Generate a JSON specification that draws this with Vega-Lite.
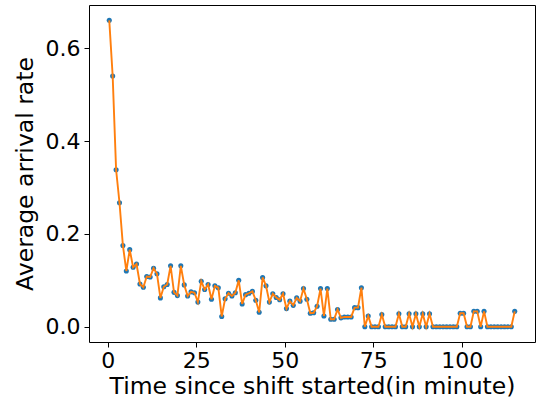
{
  "$schema": "https://vega.github.io/schema/vega-lite/v6.json",
  "width": 446,
  "height": 337,
  "autosize": "none",
  "padding": {"left": 89, "top": 5, "right": 2, "bottom": 62},
  "background": "white",
  "config": {
    "view": {"stroke": "black", "strokeWidth": 1},
    "font": "DejaVu Sans",
    "axis": {
      "domain": false,
      "grid": false,
      "tickColor": "black",
      "tickSize": 5,
      "tickWidth": 1,
      "labelFont": "DejaVu Sans",
      "labelFontSize": 22,
      "labelColor": "black",
      "titleFont": "DejaVu Sans",
      "titleFontSize": 23.5,
      "titleFontWeight": "normal",
      "titleColor": "black"
    }
  },
  "data": {
    "values": [
      {"t": 0.4, "r": 0.66}, {"t": 1.36, "r": 0.54}, {"t": 2.33, "r": 0.338}, {"t": 3.29, "r": 0.267},
      {"t": 4.25, "r": 0.175}, {"t": 5.22, "r": 0.12}, {"t": 6.18, "r": 0.166}, {"t": 7.14, "r": 0.128},
      {"t": 8.10, "r": 0.135}, {"t": 9.07, "r": 0.092}, {"t": 10.03, "r": 0.085}, {"t": 10.99, "r": 0.108},
      {"t": 11.96, "r": 0.107}, {"t": 12.92, "r": 0.126}, {"t": 13.88, "r": 0.114}, {"t": 14.85, "r": 0.062},
      {"t": 15.81, "r": 0.086}, {"t": 16.77, "r": 0.091}, {"t": 17.73, "r": 0.131}, {"t": 18.70, "r": 0.074},
      {"t": 19.66, "r": 0.067}, {"t": 20.62, "r": 0.131}, {"t": 21.59, "r": 0.09}, {"t": 22.55, "r": 0.066},
      {"t": 23.51, "r": 0.075}, {"t": 24.48, "r": 0.073}, {"t": 25.44, "r": 0.053}, {"t": 26.40, "r": 0.098},
      {"t": 27.36, "r": 0.08}, {"t": 28.33, "r": 0.091}, {"t": 29.29, "r": 0.059}, {"t": 30.25, "r": 0.088},
      {"t": 31.22, "r": 0.084}, {"t": 32.18, "r": 0.022}, {"t": 33.14, "r": 0.06}, {"t": 34.11, "r": 0.072},
      {"t": 35.07, "r": 0.066}, {"t": 36.03, "r": 0.073}, {"t": 36.99, "r": 0.1}, {"t": 37.96, "r": 0.049},
      {"t": 38.92, "r": 0.069}, {"t": 39.88, "r": 0.072}, {"t": 40.85, "r": 0.076}, {"t": 41.81, "r": 0.057},
      {"t": 42.77, "r": 0.031}, {"t": 43.74, "r": 0.106}, {"t": 44.70, "r": 0.088}, {"t": 45.66, "r": 0.053},
      {"t": 46.62, "r": 0.071}, {"t": 47.59, "r": 0.063}, {"t": 48.55, "r": 0.058}, {"t": 49.51, "r": 0.071},
      {"t": 50.48, "r": 0.039}, {"t": 51.44, "r": 0.055}, {"t": 52.40, "r": 0.046}, {"t": 53.37, "r": 0.062},
      {"t": 54.33, "r": 0.055}, {"t": 55.29, "r": 0.082}, {"t": 56.25, "r": 0.059}, {"t": 57.22, "r": 0.029},
      {"t": 58.18, "r": 0.03}, {"t": 59.14, "r": 0.044}, {"t": 60.11, "r": 0.082}, {"t": 61.07, "r": 0.023},
      {"t": 62.03, "r": 0.082}, {"t": 63.00, "r": 0.016}, {"t": 63.96, "r": 0.016}, {"t": 64.92, "r": 0.037},
      {"t": 65.88, "r": 0.019}, {"t": 66.85, "r": 0.021}, {"t": 67.81, "r": 0.021}, {"t": 68.77, "r": 0.021},
      {"t": 69.74, "r": 0.041}, {"t": 70.70, "r": 0.041}, {"t": 71.66, "r": 0.084}, {"t": 72.63, "r": 0},
      {"t": 73.59, "r": 0.023}, {"t": 74.55, "r": 0}, {"t": 75.51, "r": 0}, {"t": 76.48, "r": 0},
      {"t": 77.44, "r": 0.026}, {"t": 78.40, "r": 0}, {"t": 79.37, "r": 0}, {"t": 80.33, "r": 0},
      {"t": 81.29, "r": 0}, {"t": 82.26, "r": 0.028}, {"t": 83.22, "r": 0}, {"t": 84.18, "r": 0},
      {"t": 85.14, "r": 0.028}, {"t": 86.11, "r": 0}, {"t": 87.07, "r": 0.028}, {"t": 88.03, "r": 0},
      {"t": 89.00, "r": 0.028}, {"t": 89.96, "r": 0}, {"t": 90.92, "r": 0.028}, {"t": 91.89, "r": 0},
      {"t": 92.85, "r": 0}, {"t": 93.81, "r": 0}, {"t": 94.77, "r": 0}, {"t": 95.74, "r": 0},
      {"t": 96.70, "r": 0}, {"t": 97.66, "r": 0}, {"t": 98.63, "r": 0}, {"t": 99.59, "r": 0.029},
      {"t": 100.55, "r": 0.029}, {"t": 101.52, "r": 0}, {"t": 102.48, "r": 0}, {"t": 103.44, "r": 0.033},
      {"t": 104.40, "r": 0.033}, {"t": 105.37, "r": 0}, {"t": 106.33, "r": 0.033}, {"t": 107.29, "r": 0},
      {"t": 108.26, "r": 0}, {"t": 109.22, "r": 0}, {"t": 110.18, "r": 0}, {"t": 111.15, "r": 0},
      {"t": 112.11, "r": 0}, {"t": 113.07, "r": 0}, {"t": 114.03, "r": 0}, {"t": 115.00, "r": 0.033}
    ]
  },
  "encoding": {
    "x": {
      "field": "t",
      "type": "quantitative",
      "scale": {"domain": [-5.33, 120.73], "nice": false, "zero": false},
      "axis": {"values": [0, 25, 50, 75, 100], "title": "Time since shift started(in minute)", "labelPadding": 3, "titlePadding": 3}
    },
    "y": {
      "field": "r",
      "type": "quantitative",
      "scale": {"domain": [-0.033, 0.693], "nice": false, "zero": false},
      "axis": {"values": [0, 0.2, 0.4, 0.6], "format": ".1f", "title": "Average arrival rate", "labelPadding": 4, "titlePadding": 8}
    }
  },
  "layer": [
    {"mark": {"type": "point", "filled": true, "shape": "circle", "size": 26, "color": "#1f77b4", "opacity": 1}},
    {"mark": {"type": "line", "color": "#ff7f0e", "strokeWidth": 1.9}}
  ]
}
